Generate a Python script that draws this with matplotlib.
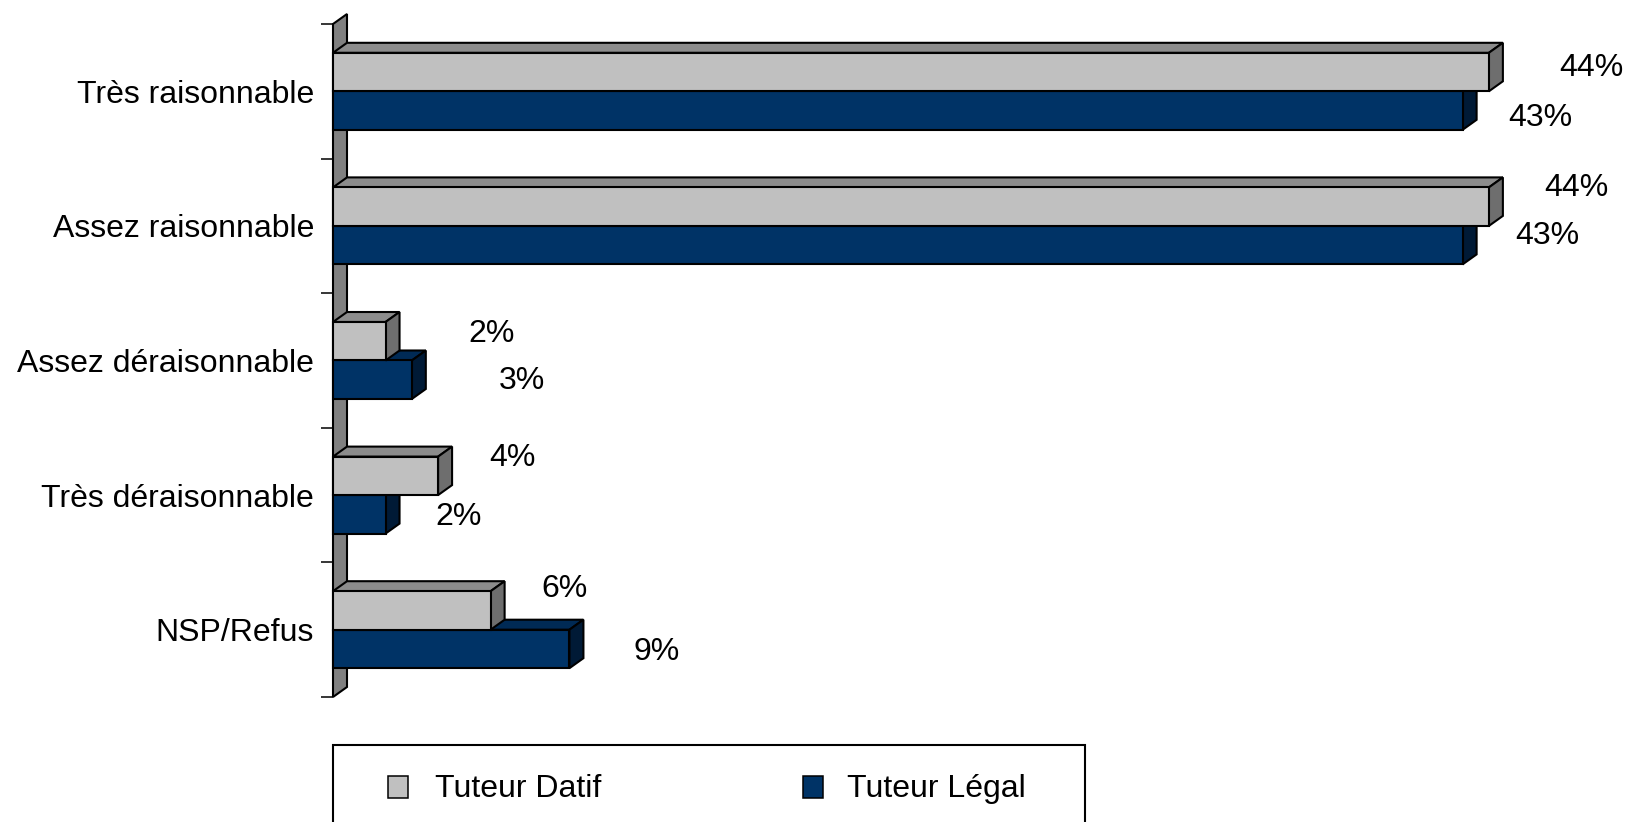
import matplotlib
matplotlib.use("Agg")
import matplotlib.pyplot as plt
from matplotlib.patches import Rectangle, Polygon

# --- DATOS ---
categorias = ["Très raisonnable", "Assez raisonnable", "Assez déraisonnable",
              "Très déraisonnable", "NSP/Refus"]
tuteur_datif = [44, 44, 2, 4, 6]
tuteur_legal = [43, 43, 3, 2, 9]
series = ["Tuteur Datif", "Tuteur Légal"]

# --- ESTILO ---
plt.rcParams['font.family'] = ['Liberation Sans', 'DejaVu Sans']
FS = 23
W, H = 1629, 822
colores = {  # frente, arriba, lado
    "datif": ("#C0C0C0", "#8C8C8C", "#6E6E6E"),
    "legal": ("#003366", "#002A55", "#001A36"),
}
color_pared = "#808080"
# ajuste fino de las etiquetas (pixeles desde el extremo de la barra / centro)
nudge_datif = [(102, 4.5), (87, 19), (106, 7.5), (74, 18), (74, 21)]
nudge_legal = [(78, -7), (85, 9), (110, -1), (73, -3), (87, -3)]

fig = plt.figure(figsize=(W / 100, H / 100), dpi=100)
ax_left, ax_top, ax_bottom = 333, 24, 697
ax = fig.add_axes([ax_left / W, 1 - ax_bottom / H, 1 - ax_left / W, (ax_bottom - ax_top) / H])
xmax = (W - ax_left) / 26.27
ax.set_xlim(0, xmax)
ax.set_ylim(len(categorias) - 0.5, -0.5)

# profundidad 3D en unidades de datos
px_x = (W - ax_left) / xmax
px_y = (ax_bottom - ax_top) / len(categorias)
ddx = 14 / px_x
ddy = 10 / px_y
lw = 1.5

# pared lateral (eje vertical)
y0, y1 = -0.5, len(categorias) - 0.5
ax.add_patch(Polygon([(0, y1), (0, y0), (ddx, y0 - ddy), (ddx, y1 - ddy)],
                     closed=True, fc=color_pared, ec="black", lw=lw, clip_on=False, zorder=1))

h = 0.143


def barra_3d(v, c, cols, z):
    frente, arriba, lado = cols
    top, bot = c - h, c + h
    ax.add_patch(Polygon([(0, top), (v, top), (v + ddx, top - ddy), (ddx, top - ddy)],
                         closed=True, fc=arriba, ec="black", lw=lw, clip_on=False, zorder=z))
    ax.add_patch(Polygon([(v, top), (v, bot), (v + ddx, bot - ddy), (v + ddx, top - ddy)],
                         closed=True, fc=lado, ec="black", lw=lw, clip_on=False, zorder=z))
    ax.add_patch(Rectangle((0, top), v, bot - top, fc=frente, ec="black", lw=lw,
                           clip_on=False, zorder=z))


# primero Tuteur Légal (detras), luego Tuteur Datif
for i, v in enumerate(tuteur_legal):
    barra_3d(v, i + h, colores["legal"], 2)
for i, v in enumerate(tuteur_datif):
    barra_3d(v, i - h, colores["datif"], 3)

# etiquetas de valores
for i, v in enumerate(tuteur_datif):
    dx, dy = nudge_datif[i]
    ax.annotate(f"{v}%", (v, i - h), xytext=(dx, dy), textcoords="offset pixels",
                ha="center", va="center", fontsize=FS, annotation_clip=False)
for i, v in enumerate(tuteur_legal):
    dx, dy = nudge_legal[i]
    ax.annotate(f"{v}%", (v, i + h), xytext=(dx, dy), textcoords="offset pixels",
                ha="center", va="center", fontsize=FS, annotation_clip=False)

# ejes
for s in ax.spines.values():
    s.set_visible(False)
ax.set_xticks([])
ax.set_yticks(range(len(categorias)))
ax.set_yticklabels(categorias, fontsize=FS)
ax.set_yticks([i - 0.5 for i in range(len(categorias) + 1)], minor=True)
ax.tick_params(axis="y", which="major", length=0, pad=13.7)
ax.tick_params(axis="y", which="minor", length=8.6, width=1.1, direction="out")

# leyenda (dibujada a mano, el marco se corta abajo)
def fx(x):
    return x / W


def fy(y):
    return 1 - y / H


fig.add_artist(Rectangle((fx(333), fy(860)), fx(1085) - fx(333), fy(745) - fy(860),
                         transform=fig.transFigure, fc="white", ec="black", lw=1.5))
for x_sq, x_txt, nombre, cols in [(388, 435, series[0], colores["datif"]),
                                  (803, 847, series[1], colores["legal"])]:
    fig.add_artist(Rectangle((fx(x_sq), fy(798)), fx(20), 22 / H,
                             transform=fig.transFigure, fc=cols[0], ec="black", lw=1.1))
    fig.text(fx(x_txt), fy(789), nombre, fontsize=FS, ha="left", va="center")

fig.savefig("out.png", dpi=100)
